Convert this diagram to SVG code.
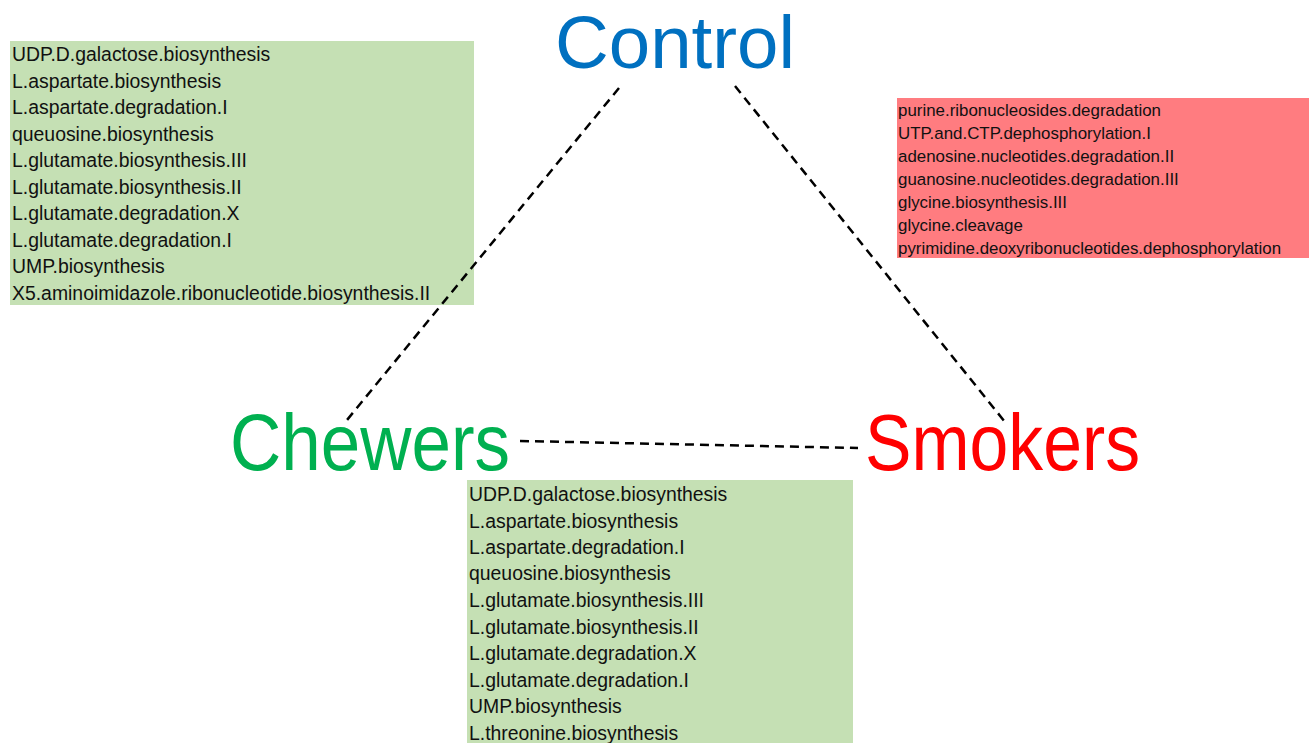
<svg xmlns="http://www.w3.org/2000/svg" width="1309" height="743" viewBox="0 0 1309 743">
<style>
.lst{font-family:"Liberation Sans",Arial,sans-serif;fill:#111}
.g1{font-size:19.4px}
.r1{font-size:16.9px}
.big{font-family:"Liberation Sans",Arial,sans-serif;font-size:80px}
.dash{stroke:#000;stroke-width:2.5;stroke-dasharray:9 6;fill:none}
</style>
<rect width="1309" height="743" fill="#fff"/>
<g id="box-control-chewers">
<rect x="10" y="41" width="464" height="264" fill="#C5E0B4"/>
<text class="lst g1" x="12" y="61">UDP.D.galactose.biosynthesis</text>
<text class="lst g1" x="12" y="88">L.aspartate.biosynthesis</text>
<text class="lst g1" x="12" y="114">L.aspartate.degradation.I</text>
<text class="lst g1" x="12" y="141">queuosine.biosynthesis</text>
<text class="lst g1" x="12" y="167">L.glutamate.biosynthesis.III</text>
<text class="lst g1" x="12" y="194">L.glutamate.biosynthesis.II</text>
<text class="lst g1" x="12" y="220">L.glutamate.degradation.X</text>
<text class="lst g1" x="12" y="247">L.glutamate.degradation.I</text>
<text class="lst g1" x="12" y="273">UMP.biosynthesis</text>
<text class="lst g1" x="12" y="300">X5.aminoimidazole.ribonucleotide.biosynthesis.II</text>
</g>
<g id="box-control-smokers">
<rect x="897" y="98" width="412" height="160" fill="#FF7C80"/>
<text class="lst r1" x="898" y="116">purine.ribonucleosides.degradation</text>
<text class="lst r1" x="898" y="139">UTP.and.CTP.dephosphorylation.I</text>
<text class="lst r1" x="898" y="162">adenosine.nucleotides.degradation.II</text>
<text class="lst r1" x="898" y="185">guanosine.nucleotides.degradation.III</text>
<text class="lst r1" x="898" y="208">glycine.biosynthesis.III</text>
<text class="lst r1" x="898" y="231">glycine.cleavage</text>
<text class="lst r1" x="898" y="254">pyrimidine.deoxyribonucleotides.dephosphorylation</text>
</g>
<g id="box-chewers-smokers">
<rect x="467" y="480" width="386" height="263" fill="#C5E0B4"/>
<text class="lst g1" x="469" y="501">UDP.D.galactose.biosynthesis</text>
<text class="lst g1" x="469" y="528">L.aspartate.biosynthesis</text>
<text class="lst g1" x="469" y="554">L.aspartate.degradation.I</text>
<text class="lst g1" x="469" y="580">queuosine.biosynthesis</text>
<text class="lst g1" x="469" y="607">L.glutamate.biosynthesis.III</text>
<text class="lst g1" x="469" y="634">L.glutamate.biosynthesis.II</text>
<text class="lst g1" x="469" y="660">L.glutamate.degradation.X</text>
<text class="lst g1" x="469" y="687">L.glutamate.degradation.I</text>
<text class="lst g1" x="469" y="713">UMP.biosynthesis</text>
<text class="lst g1" x="469" y="740">L.threonine.biosynthesis</text>
</g>
<g id="connectors">
<line class="dash" x1="619" y1="88" x2="347" y2="420"/>
<line class="dash" x1="735" y1="86" x2="1005" y2="422"/>
<line class="dash" x1="520" y1="441" x2="858" y2="448"/>
</g>
<g id="control"><text class="big" x="555" y="68" font-size="74" style="font-size:74px" textLength="240" lengthAdjust="spacingAndGlyphs" fill="#0070C0">Control</text></g>
<g id="chewers"><text class="big" x="230" y="470" textLength="280" lengthAdjust="spacingAndGlyphs" fill="#00B050">Chewers</text></g>
<g id="smokers"><text class="big" x="865" y="470" textLength="275" lengthAdjust="spacingAndGlyphs" fill="#FF0000">Smokers</text></g>
</svg>
